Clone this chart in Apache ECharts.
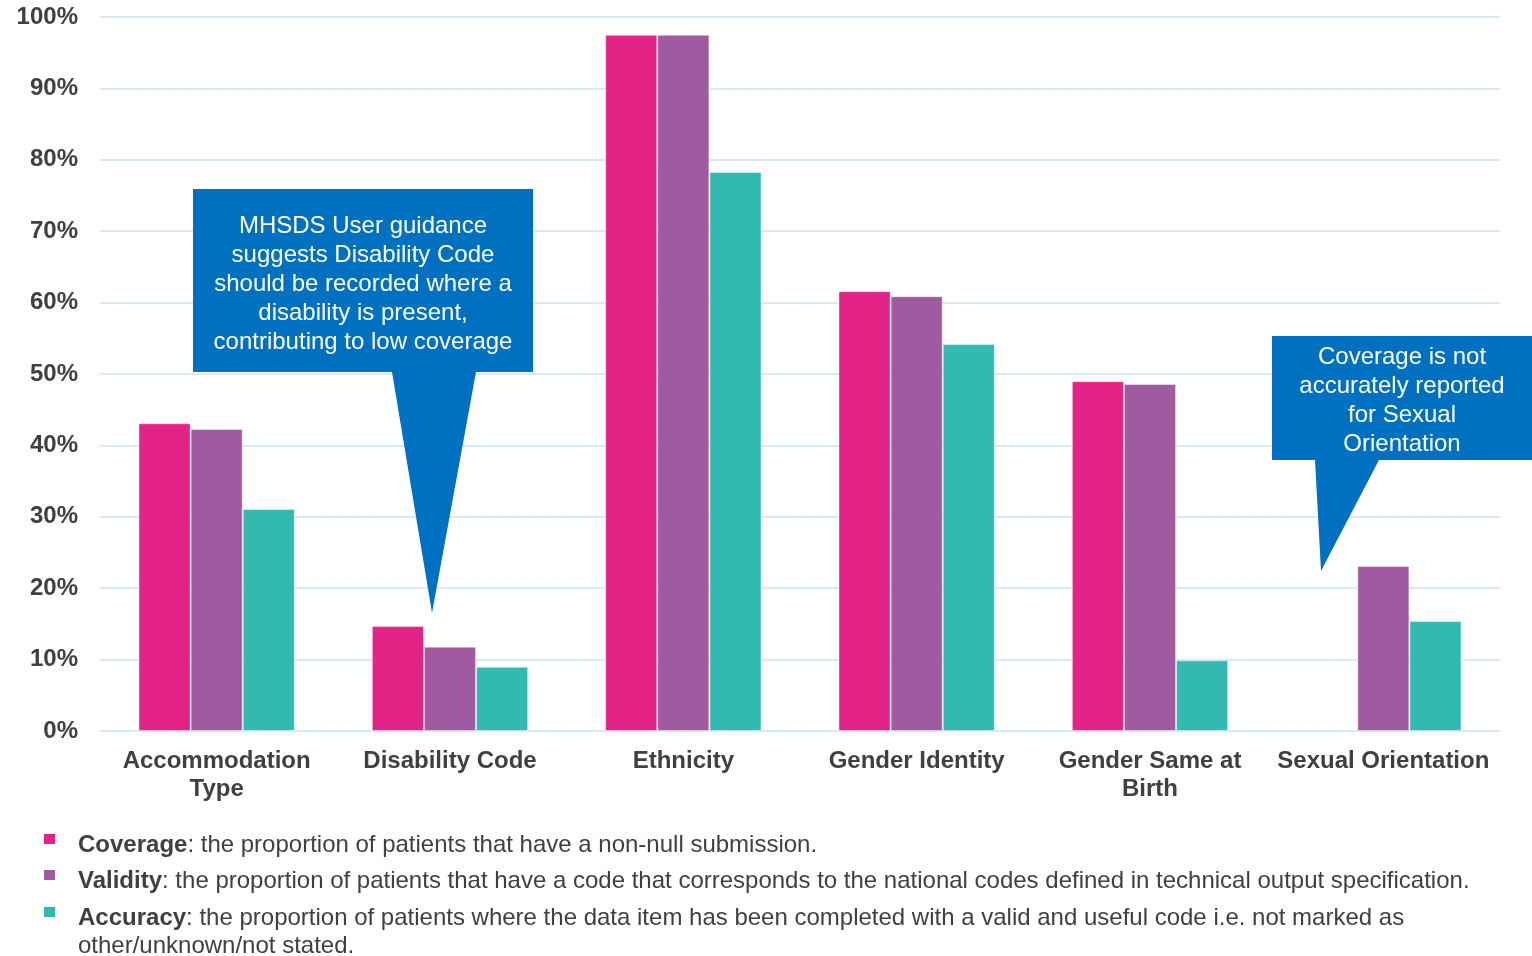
<!DOCTYPE html>
<html>
<head>
<meta charset="utf-8">
<script src="https://cdn.jsdelivr.net/npm/echarts@6/dist/echarts.min.js"></script>
<style>
  html, body { margin: 0; padding: 0; background: #fff; }
  #chart { width: 1532px; height: 956px; }
</style>
</head>
<body>
<div id="chart"></div>
<script>
const categories = [
  "Accommodation\nType",
  "Disability Code",
  "Ethnicity",
  "Gender Identity",
  "Gender Same at\nBirth",
  "Sexual Orientation",
];
const coverage = [43.1, 14.7, 97.5, 61.6, 49.0, null];
const validity = [42.3, 11.8, 97.5, 60.9, 48.6, 23.1];
const accuracy = [31.1, 9.0, 78.3, 54.2, 9.9, 15.4];
const yTicks = { min: 0, max: 100, interval: 10 };

const FONT = "'Liberation Sans', Arial, sans-serif";
const SIZE = 24;
const TEXT = "#404040";
const BLUE = "#0070C0";
const colors = { coverage: "#E32386", validity: "#A05A9F", accuracy: "#33BAB0" };

const legendItems = [
  { color: colors.coverage, term: "Coverage", text: ": the proportion of patients that have a non-null submission.", y: 844 },
  { color: colors.validity, term: "Validity", text: ": the proportion of patients that have a code that corresponds to the national codes defined in technical output specification.", y: 880 },
  { color: colors.accuracy, term: "Accuracy", text: ": the proportion of patients where the data item has been completed with a valid and useful code i.e. not marked as\nother/unknown/not stated.", y: 917 },
];

const barSeries = (name, data, color) => ({
  name,
  type: "bar",
  data,
  barGap: "0%",
  barCategoryGap: "33%",
  itemStyle: {
    color,
    borderColor: "rgba(255,255,255,0.45)",
    borderWidth: 1,
  },
  silent: true,
});

const legendGraphics = [];
legendItems.forEach((item) => {
  legendGraphics.push({
    type: "rect",
    shape: { x: 44, y: item.y - 10, width: 11, height: 10 },
    style: { fill: item.color },
  });
  legendGraphics.push({
    type: "text",
    x: 78,
    y: item.y - 13,
    style: {
      text: "{b|" + item.term + "}" + item.text,
      rich: {
        b: { fontWeight: "bold", fontSize: SIZE, fontFamily: FONT, fill: TEXT, lineHeight: 28 },
      },
      fontSize: SIZE,
      fontFamily: FONT,
      fill: TEXT,
      lineHeight: 28,
      verticalAlign: "top",
    },
  });
});

const callouts = [
  {
    points: [[193, 189], [533, 189], [533, 372], [476, 372], [432, 613], [392, 372], [193, 372]],
    text: "MHSDS User guidance\nsuggests Disability Code\nshould be recorded where a\ndisability is present,\ncontributing to low coverage",
    cx: 363,
    cy: 284,
  },
  {
    points: [[1272, 336], [1532, 336], [1532, 460], [1379, 460], [1321, 571], [1315, 460], [1272, 460]],
    text: "Coverage is not\naccurately reported\nfor Sexual\nOrientation",
    cx: 1402,
    cy: 401,
  },
];

const calloutGraphics = [];
callouts.forEach((c) => {
  calloutGraphics.push({
    type: "polygon",
    shape: { points: c.points },
    style: { fill: BLUE },
    z: 10,
  });
  calloutGraphics.push({
    type: "text",
    x: c.cx,
    y: c.cy,
    z: 11,
    style: {
      text: c.text,
      fill: "#fff",
      fontSize: SIZE,
      fontFamily: FONT,
      lineHeight: 29,
      align: "center",
      verticalAlign: "middle",
    },
  });
});

const chart = echarts.init(document.getElementById("chart"));
chart.setOption({
  animation: false,
  textStyle: { fontFamily: FONT },
  grid: { left: 100, right: 32, top: 17, bottom: 225 },
  xAxis: {
    type: "category",
    data: categories,
    axisTick: { show: false },
    axisLine: { show: false },
    axisLabel: {
      color: TEXT,
      fontWeight: "bold",
      fontSize: SIZE,
      fontFamily: FONT,
      lineHeight: 28,
      margin: 16,
      interval: 0,
    },
  },
  yAxis: {
    type: "value",
    min: yTicks.min,
    max: yTicks.max,
    interval: yTicks.interval,
    axisLine: { show: false },
    axisTick: { show: false },
    axisLabel: {
      formatter: "{value}%",
      color: TEXT,
      fontWeight: "bold",
      fontSize: SIZE,
      fontFamily: FONT,
      margin: 22,
      padding: [4, 0, 0, 0],
    },
    splitLine: { lineStyle: { color: "#D8EAF8", width: 2 } },
  },
  series: [
    barSeries("Coverage", coverage, colors.coverage),
    barSeries("Validity", validity, colors.validity),
    barSeries("Accuracy", accuracy, colors.accuracy),
  ],
  graphic: [...calloutGraphics, ...legendGraphics],
});
</script>
</body>
</html>
